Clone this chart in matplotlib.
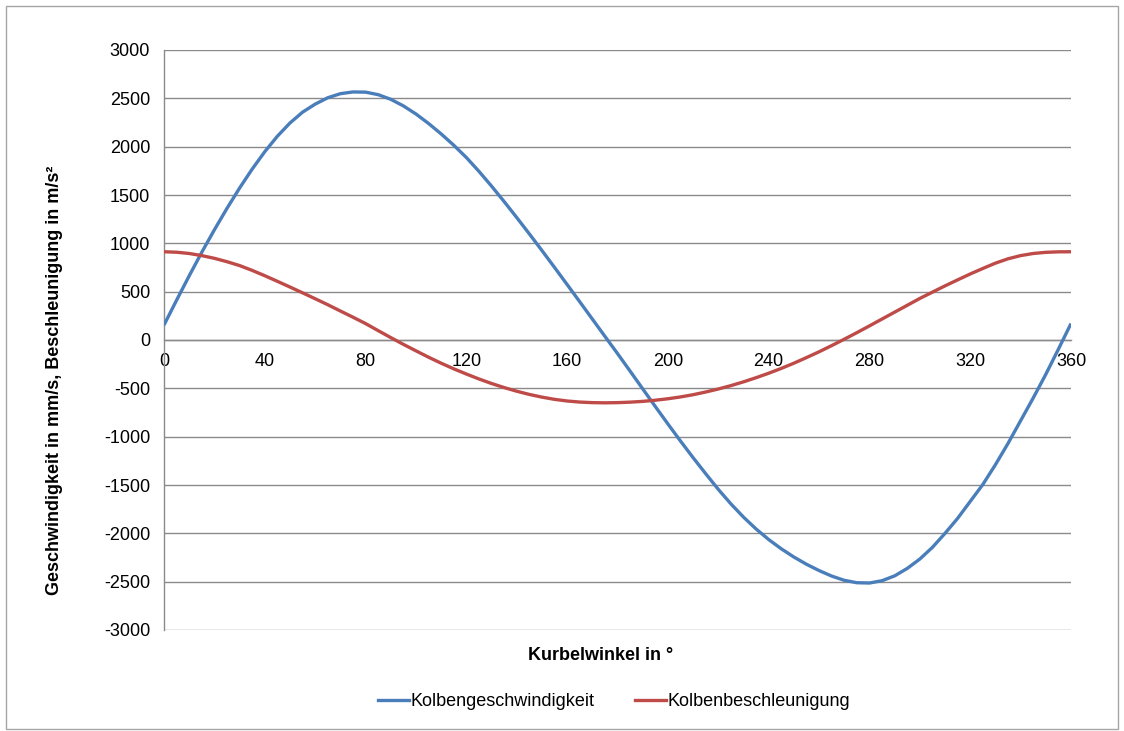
import matplotlib
matplotlib.use("Agg")
import matplotlib.pyplot as plt
from matplotlib.patches import Rectangle
from matplotlib.lines import Line2D

plt.rcParams['font.family'] = ['Liberation Sans', 'DejaVu Sans']
plt.rcParams['axes.unicode_minus'] = False

# Crank angle in degrees
kurbelwinkel = list(range(0, 361, 5))

# Piston velocity in mm/s
kolbengeschwindigkeit = [
    155, 412, 664, 908, 1140, 1362, 1572, 1768, 1948, 2108,
    2245, 2357, 2440, 2506, 2548, 2566, 2564, 2538, 2490, 2422,
    2338, 2240, 2132, 2015, 1888, 1745, 1592, 1432, 1267, 1098,
    926, 751, 574, 396, 217, 38, -140, -322, -505, -688,
    -868, -1045, -1217, -1383, -1545, -1695, -1832, -1955, -2064, -2160,
    -2245, -2320, -2385, -2442, -2486, -2511, -2514, -2490, -2440, -2363,
    -2266, -2145, -2000, -1845, -1670, -1495, -1290, -1070, -835, -600,
    -355, -95, 170,
]

# Piston acceleration in m/s²
kolbenbeschleunigung = [
    913, 908, 895, 873, 845, 810, 770, 720, 665, 607,
    548, 488, 427, 365, 300, 236, 170, 97, 25, -45,
    -112, -178, -240, -298, -352, -403, -450, -492, -530, -563,
    -591, -614, -631, -642, -648, -650, -648, -643, -635, -623,
    -608, -589, -566, -538, -507, -472, -433, -390, -344, -294,
    -240, -182, -122, -58, 8, 76, 146, 217, 288, 359,
    430, 495, 560, 622, 683, 740, 795, 840, 873, 895,
    907, 912, 913,
]

x_ticks = [0, 40, 80, 120, 160, 200, 240, 280, 320, 360]
y_ticks = list(range(-3000, 3001, 500))

W, H = 1124, 731
fig = plt.figure(figsize=(W / 100, H / 100), dpi=100)
fig.patch.set_facecolor('white')

# chart border
fig.add_artist(Rectangle((5.5 / W, 2.0 / H), 1112 / W, (H - 7.5) / H,
                         transform=fig.transFigure, fill=False,
                         edgecolor='#a6a6a6', linewidth=1.0))

ax = fig.add_axes([164 / W, (H - 630) / H, 907 / W, 580 / H])

grid_c = '#8a8a8a'
for yv in y_ticks:
    ax.axhline(yv, color=grid_c, linewidth=1.0, zorder=1)

blue = '#4A7EBB'
red = '#BE4B48'
ax.plot(kurbelwinkel, kolbengeschwindigkeit, color=blue, linewidth=2.4,
        solid_capstyle='butt', solid_joinstyle='round', zorder=3)
ax.plot(kurbelwinkel, kolbenbeschleunigung, color=red, linewidth=2.4,
        solid_capstyle='butt', solid_joinstyle='round', zorder=3)

ax.set_xlim(0, 360)
ax.set_ylim(-3000, 3000)
ax.set_xticks(x_ticks)
ax.set_yticks(y_ticks)

for s in ['top', 'right']:
    ax.spines[s].set_visible(False)
ax.spines['left'].set_color(grid_c)
ax.spines['left'].set_linewidth(1.0)
ax.spines['bottom'].set_position(('data', 0))
ax.spines['bottom'].set_color(grid_c)
ax.spines['bottom'].set_linewidth(1.0)

fs = 13
ax.tick_params(axis='both', length=0, labelsize=fs, colors='black')
ax.tick_params(axis='x', pad=9)
ax.tick_params(axis='y', pad=10)

fig.text(601 / W, 1 - 655 / H, 'Kurbelwinkel in °', ha='center', va='center',
         fontsize=fs, fontweight='bold')
fig.text(55 / W, 1 - 380 / H, 'Geschwindigkeit in mm/s, Beschleunigung in m/s²',
         ha='center', va='center', rotation=90, fontsize=fs, fontweight='bold')

handles = [Line2D([], [], color=blue, linewidth=2.4),
           Line2D([], [], color=red, linewidth=2.4)]
fig.legend(handles, ['Kolbengeschwindigkeit', 'Kolbenbeschleunigung'],
           loc='center', bbox_to_anchor=(614 / W, 1 - 702 / H), ncol=2,
           frameon=False, fontsize=fs, handlelength=1.75, handletextpad=0.08,
           columnspacing=2.2)

fig.savefig('out.png', dpi=100, facecolor='white')
